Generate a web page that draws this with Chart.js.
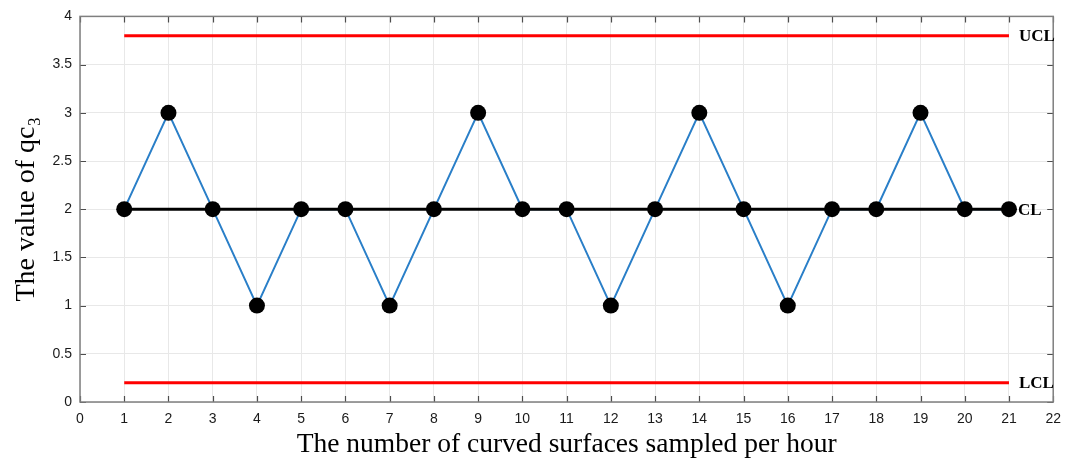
<!DOCTYPE html>
<html><head><meta charset="utf-8">
<script src="https://cdn.jsdelivr.net/npm/chart.js@4.4.0/dist/chart.umd.min.js"></script>
<style>html,body{margin:0;padding:0;background:#fff}#wrap{width:1070px;height:464px;position:relative}</style>
</head><body><div id="wrap"><canvas id="c" width="1070" height="464"></canvas></div>
<script>
const samples = [1,2,3,4,5,6,7,8,9,10,11,12,13,14,15,16,17,18,19,20,21];
const qc3Values = [2,3,2,1,2,2,1,2,3,2,2,1,2,3,2,1,2,2,3,2,2];
const limitNames = ['UCL','CL','LCL'];
const limitValues = [3.8, 2, 0.2];
const limitStart = 1, limitEnd = 21;
const xTickValues = [0,1,2,3,4,5,6,7,8,9,10,11,12,13,14,15,16,17,18,19,20,21,22];
const yTickValues = [0,0.5,1,1.5,2,2.5,3,3.5,4];
const xTitle = 'The number of curved surfaces sampled per hour';
const yTitle = 'The value of qc\u2083';

const pts = samples.map((s,i)=>({x:s,y:qc3Values[i]}));
const limitColor = {UCL:'#ff0000', CL:'#000000', LCL:'#ff0000'};
const limitDatasets = limitNames.map((n,i)=>({
  label:n, isLimit:true,
  data:[{x:limitStart,y:limitValues[i]},{x:limitEnd,y:limitValues[i]}],
  borderColor:limitColor[n], borderWidth:3, pointRadius:0, showLine:true,
  order: n==='CL'?2:4
}));

const boxPlugin = {
  id:'box',
  afterDatasetsDraw(chart){
    const {ctx, chartArea:a, scales:{x,y}} = chart;
    ctx.save();
    ctx.strokeStyle='#4d4d4d'; ctx.lineWidth=1.2;
    const tl=6;
    xTickValues.forEach(v=>{const px=Math.round(x.getPixelForValue(v))+0.5;
      ctx.beginPath();ctx.moveTo(px,a.bottom);ctx.lineTo(px,a.bottom-tl);
      ctx.moveTo(px,a.top);ctx.lineTo(px,a.top+tl);ctx.stroke();});
    yTickValues.forEach(v=>{const py=Math.round(y.getPixelForValue(v))+0.5;
      ctx.beginPath();ctx.moveTo(a.left,py);ctx.lineTo(a.left+tl,py);
      ctx.moveTo(a.right,py);ctx.lineTo(a.right-tl,py);ctx.stroke();});
    ctx.strokeStyle='#7f7f7f'; ctx.lineWidth=1.5;
    ctx.strokeRect(a.left,a.top,a.right-a.left,a.bottom-a.top);
    ctx.fillStyle='#000';
    ctx.font='bold 17px "Liberation Serif", "Times New Roman", serif';
    ctx.textBaseline='middle'; ctx.textAlign='left';
    chart.data.datasets.forEach(ds=>{
      if(!ds.isLimit) return;
      const last = ds.data[ds.data.length-1];
      const px = x.getPixelForValue(last.x)+ (ds.label==='CL'?9:10);
      ctx.fillText(ds.label, px, y.getPixelForValue(last.y)+1);
    });
    ctx.restore();
  }
};

new Chart(document.getElementById('c'), {
  type:'scatter',
  data:{datasets:[
    {label:'markers', data:pts, showLine:false, pointRadius:8, pointHoverRadius:8,
     pointBackgroundColor:'#000', pointBorderColor:'#000', borderWidth:0, order:0},
    ...limitDatasets,
    {label:'qc3', data:pts, showLine:true, borderColor:'#2a7fc8', borderWidth:2, pointRadius:0, order:3}
  ]},
  options:{
    responsive:false, animation:false, devicePixelRatio:1,
    layout:{padding:{top:15,right:14,left:0,bottom:0}},
    plugins:{legend:{display:false}, tooltip:{enabled:false}},
    scales:{
      x:{type:'linear', min:0, max:22,
        afterBuildTicks(s){s.ticks=xTickValues.map(v=>({value:v}));},
        afterFit(s){s.height=62;},
        grid:{color:'#e8e8e8', lineWidth:1, drawTicks:false},
        border:{display:false},
        ticks:{padding:9, color:'#1a1a1a', font:{family:'"Liberation Sans", Arial, sans-serif', size:14}, maxRotation:0, autoSkip:false,
          callback:v=>String(v)},
        title:{display:true, text:xTitle, color:'#000', font:{family:'"Liberation Serif", "Times New Roman", serif', size:27.5}, padding:{top:0,bottom:3}}
      },
      y:{type:'linear', min:0, max:4,
        afterBuildTicks(s){s.ticks=yTickValues.map(v=>({value:v}));},
        afterFit(s){s.width=80;},
        grid:{color:'#e8e8e8', lineWidth:1, drawTicks:false},
        border:{display:false},
        ticks:{padding:8, color:'#1a1a1a', font:{family:'"Liberation Sans", Arial, sans-serif', size:14}, autoSkip:false,
          callback:v=>String(v)},
        title:{display:true, text:yTitle, color:'#000', font:{family:'"Liberation Serif", "Times New Roman", serif', size:28}, padding:{top:10,bottom:0}}
      }
    }
  },
  plugins:[boxPlugin]
});
</script></body></html>
